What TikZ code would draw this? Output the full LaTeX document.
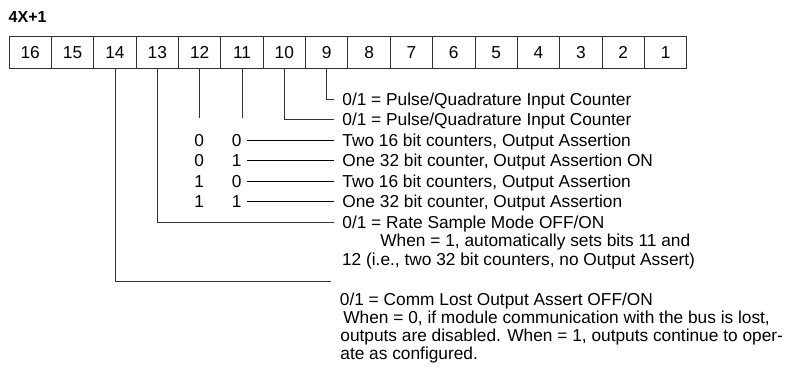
\documentclass[tikz,border=0pt]{standalone}
\usepackage{fontspec}
\setmainfont{Liberation Sans}

\begin{document}
\begin{tikzpicture}[
    x=1pt, y=-1pt,
    line width=0.8pt,
    txt/.style={font=\fontsize{17.3}{20}\selectfont},
    cell/.style={txt, draw=black!80, minimum width=42.36pt, minimum height=32pt, inner sep=0pt},
    lbl/.style={txt, anchor=west, inner xsep=8pt, inner ysep=0pt, text height=11.6pt, text depth=0pt},
    note/.style={txt, anchor=west, inner sep=0pt, text height=11.6pt, text depth=0pt},
    bitval/.style={txt, inner xsep=5pt, inner ysep=0pt, text height=11.6pt, text depth=0pt}
  ]
  \useasboundingbox (0,0) rectangle (785,376);

  % titolo
  \node[anchor=base west, inner sep=0pt, font=\bfseries\fontsize{16}{19}\selectfont] (title) at (8.3,22.7) {4X+1};

  % registro
  \foreach \b in {1,...,16}
    \node[cell] (b\b) at ({30.18+(16-\b)*42.36},52.3) {\b};

  % descrizioni
  \node[lbl] (t9) at (334,99.3) {0/1 = Pulse/Quadrature Input Counter};
  \node[lbl] (t10) at (334,119.8) {0/1 = Pulse/Quadrature Input Counter};
  \node[lbl] (m1) at (334,140.3) {Two 16 bit counters, Output Assertion};
  \node[lbl] (m2) at (334,160.8) {One 32 bit counter, Output Assertion ON};
  \node[lbl] (m3) at (334,181.3) {Two 16 bit counters, Output Assertion};
  \node[lbl] (m4) at (334,201.8) {One 32 bit counter, Output Assertion};
  \node[lbl] (t13) at (334,222.3) {0/1 = Rate Sample Mode OFF/ON};
  \node[note] (n13a) at (380,240.9) {When = 1, automatically sets bits 11 and};
  \node[note] (n13b) at (341.7,259.5) {12 (i.e., two 32 bit counters, no Output Assert)};
  \node[note] (t14) at (339.5,299.2) {0/1 = Comm Lost Output Assert OFF/ON};
  \node[note] (n14a) at (343,317.5) {When = 0, if module communication with the bus is lost,};
  \node[note] (n14b) at (340,335.9) {outputs are disabled. When = 1, outputs continue to oper-};
  \node[note] (n14c) at (340,353.2) {ate as configured.};

  % valori bit 12 / 11
  \node[bitval] (v1a) at (199.3,140.3) {0};
  \node[bitval] (v1b) at (236.7,140.3) {0};
  \node[bitval] (v2a) at (199.3,160.8) {0};
  \node[bitval] (v2b) at (236.7,160.8) {1};
  \node[bitval] (v3a) at (199.3,181.3) {1};
  \node[bitval] (v3b) at (236.7,181.3) {0};
  \node[bitval] (v4a) at (199.3,201.8) {1};
  \node[bitval] (v4b) at (236.7,201.8) {1};

  \coordinate (cut) at (0,118);
  \coordinate (e14) at (331,281);

  % collegamenti
  \draw[black!80] (b9.south) |- (t9.west);
  \draw[black!80] (b10.south) |- (t10.west);
  \draw[black!80] (b12.south) -- (b12.south |- cut);
  \draw[black!80] (b11.south) -- (b11.south |- cut);
  \draw[black!80] (b13.south) |- (t13.west);
  \draw[black!80] (b14.south) |- (e14);

  % righe della tabella
  \draw (v1b.east) -- (m1.west);
  \draw (v2b.east) -- (m2.west);
  \draw (v3b.east) -- (m3.west);
  \draw (v4b.east) -- (m4.west);

\end{tikzpicture}
\end{document}
